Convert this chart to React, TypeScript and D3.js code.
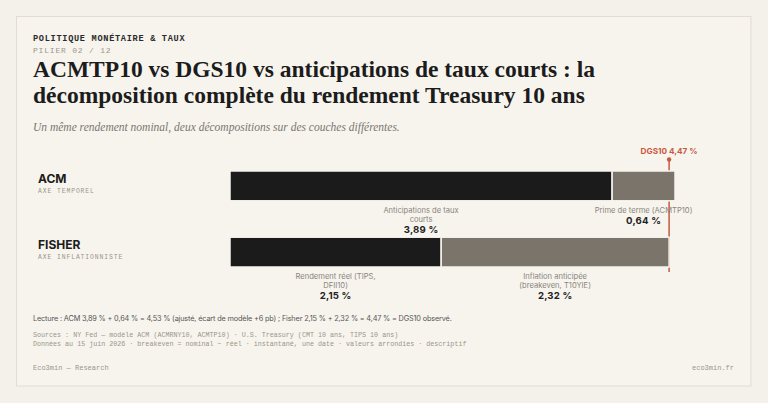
import React from 'react';
import * as d3 from 'd3';

const rows = ['ACM', 'FISHER'];
const rowAxes = ['AXE TEMPOREL', 'AXE INFLATIONNISTE'];
const acmValues = [3.89, 0.64];
const fisherValues = [2.15, 2.32];
const acmLabels = [['Anticipations de taux', 'courts'], ['Prime de terme (ACMTP10)']];
const fisherLabels = [['Rendement réel (TIPS,', 'DFII10)'], ['Inflation anticipée', '(breakeven, T10YIE)']];
const dgs10 = 4.47;
const acmTotal = 4.53;

const W = 768;
const H = 403;
const BG = '#f4f1ea';
const CARD = '#f7f4ee';
const DARK = '#1b1b1b';
const TAUPE = '#7b746a';
const RED = '#c9583f';
const SANS = 'Inter, "Noto Sans", sans-serif';
const SERIF = '"Liberation Serif", "DejaVu Serif", serif';
const MONO = '"Liberation Mono", "DejaVu Sans Mono", monospace';

const fmt = (v: number) => v.toFixed(2).replace('.', ',') + ' %';

const App = () => {
  const x = d3.scaleLinear().domain([0, acmTotal]).range([230, 675]);
  const y = d3.scaleBand().domain(rows).range([171, 267]).paddingInner(0.55);

  const series = [acmValues, fisherValues];
  const labels = [acmLabels, fisherLabels];

  return (
    <svg width={W} height={H} style={{ position: 'absolute', left: 0, top: 0 }}>
      <rect width={W} height={H} fill={BG} />
      <rect x={16.5} y={16.5} width={734.5} height={369.5} fill={CARD} stroke="#e3ddd1" />

      <text x={33} y={41} fontFamily={MONO} fontWeight="bold" fontSize={8.6} letterSpacing={0.7} fill="#2a2a2a">
        POLITIQUE MONÉTAIRE &amp; TAUX
      </text>
      <text x={33} y={53} fontFamily={MONO} fontSize={8} letterSpacing={0.8} fill="#9a958c">
        PILIER 02 / 12
      </text>
      <text fontFamily={SERIF} fontWeight="bold" fontSize={23.5} fill="#1c1c1c">
        <tspan x={33} y={77}>ACMTP10 vs DGS10 vs anticipations de taux courts : la</tspan>
        <tspan x={33} y={103}>décomposition complète du rendement Treasury 10 ans</tspan>
      </text>
      <text x={33} y={131} fontFamily={SERIF} fontStyle="italic" fontSize={11.5} fill="#7a766f">
        Un même rendement nominal, deux décompositions sur des couches différentes.
      </text>

      {/* DGS10 marker, behind the bars */}
      <line x1={x(dgs10)} x2={x(dgs10)} y1={159.5} y2={272} stroke={RED} strokeWidth={1.5} />
      <circle cx={x(dgs10)} cy={159.5} r={2.2} fill={RED} />
      <text x={x(dgs10)} y={153.5} textAnchor="middle" fontFamily={SANS} fontWeight="bold" fontSize={8.2} fill={RED}>
        DGS10 {fmt(dgs10)}
      </text>

      {rows.map((r, i) => {
        const y0 = y(r)!;
        const bh = y.bandwidth();
        const stack = d3.cumsum(series[i]);
        return (
          <g key={r}>
            <text x={38} y={y0 + 11.5} fontFamily={SANS} fontWeight="bold" fontSize={12} fill="#1c1c1c">{r}</text>
            <text x={38} y={y0 + 22} fontFamily={MONO} fontSize={6.4} letterSpacing={0.9} fill="#9a958c">{rowAxes[i]}</text>
            {series[i].map((v, j) => {
              const start = j === 0 ? 0 : stack[j - 1];
              const x0 = x(start);
              const x1 = x(start + v);
              const cx = (x0 + x1) / 2;
              const lines = labels[i][j];
              return (
                <g key={j}>
                  <rect x={x0} y={y0} width={x1 - x0} height={bh} fill={j === 0 ? DARK : TAUPE} stroke={CARD} strokeWidth={1.5} />
                  <text textAnchor="middle" fontFamily={SANS} fontSize={7.6} fill="#8a857d">
                    {lines.map((l, k) => (
                      <tspan key={k} x={cx} y={y0 + bh + 12 + k * 9}>{l}</tspan>
                    ))}
                  </text>
                  <text x={cx} y={y0 + bh + 12 + (lines.length - 1) * 9 + 11} textAnchor="middle" fontFamily={SANS} fontWeight="bold" fontSize={9.6} letterSpacing={0.2} fill="#222">
                    {fmt(v)}
                  </text>
                </g>
              );
            })}
          </g>
        );
      })}

      <text x={33} y={321} fontFamily={SANS} fontSize={7.3} letterSpacing={-0.15} fill="#555">
        Lecture : ACM 3,89 % + 0,64 % = 4,53 % (ajusté, écart de modèle +6 pb) ; Fisher 2,15 % + 2,32 % = 4,47 % = DGS10 observé.
      </text>
      <text fontFamily={MONO} fontSize={6.7} fill="#9a958c">
        <tspan x={33} y={337}>Sources : NY Fed — modèle ACM (ACMRNY10, ACMTP10) · U.S. Treasury (CMT 10 ans, TIPS 10 ans)</tspan>
        <tspan x={33} y={346}>Données au 15 juin 2026 · breakeven = nominal − réel · instantané, une date · valeurs arrondies · descriptif</tspan>
      </text>
      <text x={33} y={369.5} fontFamily={MONO} fontSize={7} fill="#9a958c">Eco3min — Research</text>
      <text x={734} y={369.5} textAnchor="end" fontFamily={MONO} fontSize={7} fill="#9a958c">eco3min.fr</text>
    </svg>
  );
};

export default App;
